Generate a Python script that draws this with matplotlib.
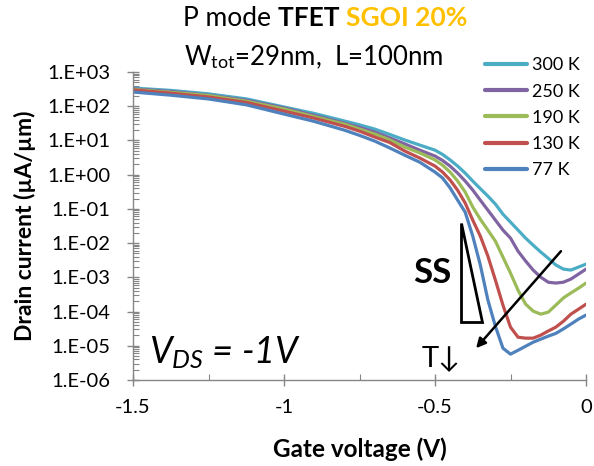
import matplotlib
matplotlib.use("Agg")
import matplotlib.pyplot as plt
import numpy as np
from matplotlib.ticker import FixedLocator, FuncFormatter, LogLocator, NullFormatter
from matplotlib.patches import Polygon

plt.rcParams["font.family"] = ["Lato", "DejaVu Sans"]
plt.rcParams["mathtext.fontset"] = "custom"
plt.rcParams["mathtext.rm"] = "Lato"
plt.rcParams["mathtext.it"] = "Lato:italic"
plt.rcParams["mathtext.bf"] = "Lato:bold"

# gate voltage (V), shared by all curves
vg = [-1.5, -1.375, -1.25, -1.125, -1.0, -0.9, -0.8, -0.75, -0.7, -0.65, -0.6,
      -0.55, -0.5, -0.475, -0.45, -0.425, -0.4, -0.375, -0.35, -0.325, -0.3,
      -0.275, -0.25, -0.225, -0.2, -0.175, -0.15, -0.125, -0.1, -0.075, -0.05,
      -0.025, 0.0]

# drain current (uA/um) per temperature
id_300k = [3.4e2, 2.9e2, 2.3e2, 1.64e2, 95, 61.5, 37, 28.6, 21.5, 15.0, 10.3,
           7.3, 5.2, 3.9, 2.7, 1.78, 1.11, 0.65, 0.39, 0.237, 0.138,
           0.070, 0.041, 0.024, 0.014, 8.7e-3, 5.5e-3, 3.6e-3, 2.3e-3, 1.74e-3, 1.63e-3,
           1.99e-3, 2.43e-3]
id_250k = [3.2e2, 2.7e2, 2.1e2, 1.49e2, 89, 53.8, 32, 24.0, 17.6, 11.9, 7.9,
           5.2, 3.5, 2.6, 1.78, 1.11, 0.65, 0.355, 0.18, 0.092, 0.047,
           0.024, 0.014, 5.8e-3, 3.0e-3, 1.63e-3, 1.01e-3, 7.2e-4, 6.8e-4, 7.2e-4, 8.9e-4,
           1.24e-3, 1.74e-3]
id_190k = [3.1e2, 2.55e2, 2.05e2, 1.40e2, 83, 49.6, 30, 21.5, 15.4, 10.4, 6.4,
           4.3, 2.7, 1.9, 1.19, 0.65, 0.31, 0.113, 0.050, 0.024, 0.0114,
           3.9e-3, 1.33e-3, 4.2e-4, 1.65e-4, 1.03e-4, 8.4e-5, 9.6e-5, 1.54e-4, 2.5e-4, 3.5e-4,
           4.8e-4, 6.8e-4]
id_130k = [3.0e2, 2.4e2, 1.86e2, 1.29e2, 72, 44.6, 26, 18.7, 12.6, 8.7, 4.9,
           3.05, 1.78, 1.19, 0.70, 0.35, 0.148, 0.047, 0.016, 4.2e-3, 8.3e-4,
           1.54e-4, 3.5e-5, 1.78e-5, 1.67e-5, 1.67e-5, 2.04e-5, 2.7e-5, 3.5e-5, 5.2e-5, 8.4e-5,
           1.17e-4, 1.64e-4]
id_77k = [2.6e2, 2.1e2, 1.63e2, 1.10e2, 59, 36.0, 20, 14.1, 9.6, 6.05, 3.7,
          2.3, 1.19, 0.80, 0.41, 0.18, 0.080, 0.016, 2.3e-3, 2.2e-4, 3.7e-5,
          8.5e-6, 5.7e-6, 7.4e-6, 9.7e-6, 1.27e-5, 1.56e-5, 1.91e-5, 2.3e-5, 3.1e-5, 4.3e-5,
          6.0e-5, 7.9e-5]

labels = ["300 K", "250 K", "190 K", "130 K", "77 K"]
colors = ["#4BACC6", "#8064A2", "#9BBB59", "#C0504D", "#4F81BD"]
series = [id_300k, id_250k, id_190k, id_130k, id_77k]

W, H = 594, 466
fig = plt.figure(figsize=(W / 100, H / 100), dpi=100)
ax = fig.add_axes([133 / W, 1 - 380 / H, (586 - 133) / W, (380 - 72) / H])

for lab, col, ys in zip(labels, colors, series):
    ax.plot(vg, ys, color=col, lw=2.3, label=lab, solid_capstyle="round",
            solid_joinstyle="round")

ax.set_yscale("log")
ax.set_xlim(-1.5, 0)
ax.set_ylim(1e-6, 1e3)

axis_gray = "#868686"
for side in ["top", "right"]:
    ax.spines[side].set_visible(False)
for side in ["left", "bottom"]:
    ax.spines[side].set_color(axis_gray)
    ax.spines[side].set_linewidth(1.0)

ax.xaxis.set_major_locator(FixedLocator([-1.5, -1.0, -0.5, 0.0]))
ax.xaxis.set_minor_locator(FixedLocator([-1.25, -0.75, -0.25]))
ax.xaxis.set_major_formatter(FuncFormatter(lambda v, p: f"{v:g}"))
ax.yaxis.set_major_locator(FixedLocator([10.0 ** e for e in range(-6, 4)]))
ax.yaxis.set_minor_locator(LogLocator(base=10, subs=np.arange(2, 10), numticks=20))
ax.yaxis.set_minor_formatter(NullFormatter())
ax.yaxis.set_major_formatter(
    FuncFormatter(lambda v, p: "1.E{:+03d}".format(int(round(np.log10(v))))))

ax.tick_params(which="major", direction="inout", length=9, width=1.0,
               color=axis_gray, labelsize=14.5, labelcolor="#000000")
ax.tick_params(which="minor", direction="in", length=4, width=0.8, color=axis_gray)
ax.tick_params(axis="x", which="major", pad=9)
ax.tick_params(axis="y", which="major", pad=12)

ax.set_xlabel("Gate voltage (V)", fontsize=17.5, fontweight="bold")
ax.set_ylabel("Drain current (µA/µm)", fontsize=16.5, fontweight="bold")
ax.xaxis.set_label_coords(0.5, -0.185)
ax.yaxis.set_label_coords(-0.215, 0.5)

leg = ax.legend(loc="upper left", bbox_to_anchor=(478 / W, 1 - 50 / H),
                bbox_transform=fig.transFigure, frameon=False, fontsize=13,
                handlelength=2.3, handletextpad=0.3, labelspacing=0.57,
                borderaxespad=0)
for ln in leg.get_lines():
    ln.set_linewidth(3)

# annotations
tri = Polygon([(-0.414, 0.0385), (-0.414, 4.9e-5), (-0.344, 4.9e-5)],
              closed=True, facecolor="white", edgecolor="black", lw=2, zorder=5)
ax.add_patch(tri)
ax.text(-0.51, 1.33e-3, "SS", fontsize=25, fontweight="bold", ha="center", va="center")
ax.annotate("", xy=(-0.364, 8.5e-6), xytext=(-0.083, 5.8e-3),
            arrowprops=dict(arrowstyle="-|>", color="black", lw=1.8,
                            mutation_scale=14, shrinkA=0, shrinkB=0), zorder=6)
ax.text(-0.48, 4.5e-6, "T↓", fontsize=21, ha="center", va="center",
        family=["Lato", "DejaVu Sans"])
ax.text(-1.447, 6.5e-6, "$V_{DS}$ = -1V", fontsize=26, style="italic",
        ha="left", va="center")

# title: mixed styles on one line
renderer = fig.canvas.get_renderer()
pieces = [("P mode ", "normal", "black"), ("TFET ", "bold", "black"),
          ("SGOI 20%", "bold", "#FFC000")]
texts = []
x = 0.0
for s, wt, col in pieces:
    t = fig.text(x, 1 - 18 / H, s, fontsize=19, fontweight=wt, color=col,
                 ha="left", va="center")
    bb = t.get_window_extent(renderer)
    texts.append(t)
    x = bb.x1 / W
total = x
x0 = 325 / W - total / 2
for t in texts:
    px, py = t.get_position()
    t.set_position((px + x0, py))

fig.text(314 / W, 1 - 57 / H, r"W$_{\mathrm{tot}}$=29nm,  L=100nm", fontsize=18.5,
         ha="center", va="center")

fig.savefig("out.png", dpi=100)
